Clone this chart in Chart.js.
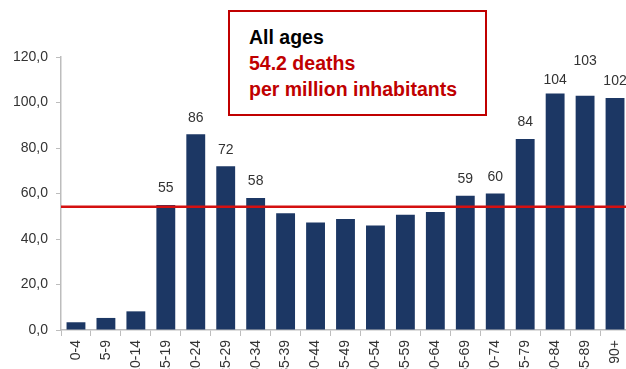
<!DOCTYPE html>
<html>
<head>
<meta charset="utf-8">
<script src="https://cdn.jsdelivr.net/npm/chart.js@4"></script>
<style>
  html, body { margin: 0; padding: 0; background: #fff; overflow: hidden; }
  #wrap { position: relative; width: 626px; height: 369px; overflow: hidden; }
  #note {
    position: absolute; left: 228px; top: 10px; width: 255px; height: 102px;
    border: 2px solid #c00000; background: #fff; box-sizing: content-box;
    font-family: "Liberation Sans", Arial, sans-serif; font-weight: bold;
    font-size: 19.5px; line-height: 26px; padding: 0;
  }
  #note .t { position: absolute; left: 19px; top: 12px; }
  #note .black { color: #000; }
  #note .red { color: #c00000; }
</style>
</head>
<body>
<div id="wrap">
  <canvas id="c" width="630" height="369"></canvas>
  <div id="note"><div class="t"><div class="black">All ages</div><div class="red">54.2 deaths</div><div class="red">per million inhabitants</div></div></div>
</div>
<script>
// Age groups (years)
const ageGroups = ['0-4','5-9','10-14','15-19','20-24','25-29','30-34','35-39','40-44','45-49',
                   '50-54','55-59','60-64','65-69','70-74','75-79','80-84','85-89','90+'];
// Deaths per million inhabitants by age group
const deathRates = [3.4, 5.3, 8.2, 55, 86, 72, 58, 51.3, 47.2, 48.8,
                    45.9, 50.7, 51.9, 59, 60, 84, 104, 103, 102];
// Printed value labels (null = no label)
const valueLabels = [null, null, null, '55', '86', '72', '58', null, null, null,
                     null, null, null, '59', '60', '84', '104', '103', '102'];
// Average over all ages
const allAgesRate = 54.2;
const yTicks = [0, 20, 40, 60, 80, 100, 120];

const FONT = '"Liberation Sans", Arial, sans-serif';

const avgLine = {
  id: 'avgLine',
  afterDatasetsDraw(chart) {
    const { ctx, chartArea, scales } = chart;
    const y = scales.y.getPixelForValue(allAgesRate);
    ctx.save();
    ctx.strokeStyle = '#d41010';
    ctx.lineWidth = 2.5;
    ctx.beginPath();
    ctx.moveTo(chartArea.left, y);
    ctx.lineTo(chart.width, y);
    ctx.stroke();
    ctx.restore();
  }
};

const barValues = {
  id: 'barValues',
  afterDatasetsDraw(chart) {
    const { ctx } = chart;
    const meta = chart.getDatasetMeta(0);
    // extra lift (px) for labels that sit higher above their bars
    const lift = { 16: -3, 17: 18 };
    ctx.save();
    ctx.font = '14px ' + FONT;
    ctx.fillStyle = '#333';
    ctx.textAlign = 'center';
    ctx.textBaseline = 'middle';
    meta.data.forEach((bar, i) => {
      const txt = valueLabels[i];
      if (!txt) return;
      ctx.fillText(txt, bar.x, bar.y - 16.5 - (lift[i] || 0));
    });
    ctx.restore();
  }
};

new Chart(document.getElementById('c'), {
  type: 'bar',
  data: {
    labels: ageGroups,
    datasets: [{
      data: deathRates,
      backgroundColor: '#1c3764',
      borderWidth: 0,
      barPercentage: 0.63,
      categoryPercentage: 1.0
    }]
  },
  options: {
    responsive: false,
    animation: false,
    devicePixelRatio: 1,
    layout: { padding: { top: 57, right: 0, left: 0, bottom: 0 } },
    plugins: { legend: { display: false }, tooltip: { enabled: false } },
    scales: {
      x: {
        offset: true,
        grid: { display: true, drawOnChartArea: false, drawTicks: true, tickLength: 6, color: '#bdbdbd', offset: true },
        border: { display: true, color: '#bdbdbd', width: 1.5 },
        ticks: {
          autoSkip: false, maxRotation: 90, minRotation: 90, padding: 4,
          color: '#333', font: { family: FONT, size: 14 }
        },
        afterFit(scale) { scale.height = 39; scale.paddingLeft = 0; scale.paddingRight = 0; }
      },
      y: {
        min: 0, max: 120,
        afterBuildTicks(scale) { scale.ticks = yTicks.map(v => ({ value: v })); },
        grid: { display: true, drawOnChartArea: false, drawTicks: true, tickLength: 5, color: '#bdbdbd' },
        border: { display: true, color: '#bdbdbd', width: 1.5 },
        ticks: {
          padding: 8, color: '#333', font: { family: FONT, size: 14 },
          callback: v => v.toFixed(1).replace('.', ',')
        },
        afterFit(scale) { scale.width = 61; scale.paddingTop = 0; scale.paddingBottom = 0; }
      }
    }
  },
  plugins: [avgLine, barValues]
});
</script>
</body>
</html>
